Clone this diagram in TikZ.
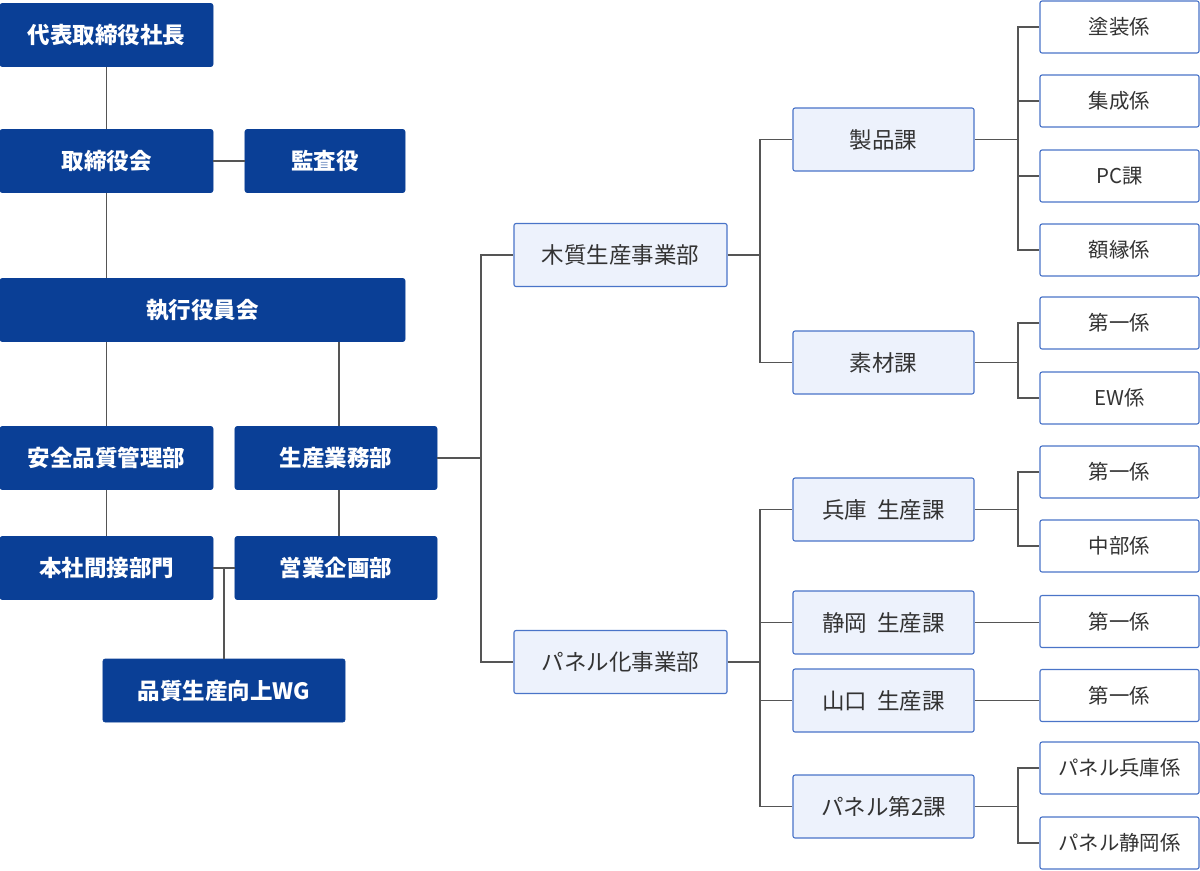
\documentclass[tikz,border=0pt]{standalone}
\usepackage{fontspec}
\setmainfont{Noto Sans CJK JP}
\definecolor{navy}{HTML}{0A3F96}
\definecolor{paleblue}{HTML}{EDF2FC}
\definecolor{edgeblue}{HTML}{4A74C8}
\definecolor{linegray}{HTML}{555555}
\definecolor{textgray}{HTML}{333333}
\tikzset{
  head/.style={draw=navy, fill=navy, text=white, rounded corners=1.5pt,
    minimum height=1.575cm, inner sep=0pt,
    font=\fontsize{16}{18}\selectfont\bfseries},
  division/.style={draw=edgeblue, fill=paleblue, text=textgray, rounded corners=1.5pt,
    line width=0.8pt, minimum width=5.325cm, minimum height=1.575cm, inner sep=0pt,
    font=\fontsize{16}{18}\selectfont},
  section/.style={division, minimum width=4.525cm},
  unit/.style={draw=edgeblue, fill=white, text=textgray, rounded corners=1.5pt,
    line width=0.8pt, minimum width=3.975cm, minimum height=1.3cm, inner sep=0pt,
    font=\fontsize{14.5}{16}\selectfont},
  link/.style={draw=linegray, line width=1.3pt}
}
\begin{document}
\begin{tikzpicture}[x=0.025cm, y=-0.025cm]
  \useasboundingbox (0,0) rectangle (1200,870);
  % management side
  \node [head, minimum width=5.325cm] (pres) at (106.5,35) {代表取締役社長};
  \node [head, minimum width=5.325cm] (board) at (106.5,161) {取締役会};
  \node [head, minimum width=4cm] (audit) at (325,161) {監査役};
  \node [head, minimum width=10.125cm] (exec) at (202.5,310) {執行役員会};
  \node [head, minimum width=5.325cm] (safety) at (106.5,458) {安全品質管理部};
  \node [head, minimum width=5.05cm] (ops) at (336,458) {生産業務部};
  \node [head, minimum width=5.325cm] (indirect) at (106.5,568) {本社間接部門};
  \node [head, minimum width=5.05cm] (sales) at (336,568) {営業企画部};
  \node [head, minimum width=6.05cm] (wg) at (224,690.5) {品質生産向上WG};
  % divisions
  \node [division] (wood) at (620.5,255) {木質生産事業部};
  \node [division] (panel) at (620.5,662) {パネル化事業部};
  % sections
  \node [section] (seihin) at (883.5,139.5) {製品課};
  \node [section] (sozai) at (883.5,362.5) {素材課};
  \node [section] (hyogo) at (883.5,509.5) {兵庫\hspace{0.45em}生産課};
  \node [section] (shizuoka) at (883.5,622.5) {静岡\hspace{0.45em}生産課};
  \node [section] (yamaguchi) at (883.5,700.5) {山口\hspace{0.45em}生産課};
  \node [section] (panelsec) at (883.5,806.5) {パネル第2課};
  % units
  \node [unit] (tosou) at (1119.5,27) {塗装係};
  \node [unit] (shusei) at (1119.5,101) {集成係};
  \node [unit] (pc) at (1119.5,176) {PC課};
  \node [unit] (gakubuchi) at (1119.5,250) {額縁係};
  \node [unit] (sozaiA) at (1119.5,323) {第一係};
  \node [unit] (ew) at (1119.5,398) {EW係};
  \node [unit] (hyogoA) at (1119.5,472) {第一係};
  \node [unit] (chubu) at (1119.5,546) {中部係};
  \node [unit] (shizuokaA) at (1119.5,621.5) {第一係};
  \node [unit] (yamaguchiA) at (1119.5,695.5) {第一係};
  \node [unit] (phyogo) at (1119.5,768) {パネル兵庫係};
  \node [unit] (pshizuoka) at (1119.5,843) {パネル静岡係};
  % branch points
  \coordinate (opsbr) at (481,458);
  \coordinate (woodbr) at (760,255);
  \coordinate (panelbr) at (760,662);
  \coordinate (seihinbr) at (1018,139.5);
  \coordinate (sozaibr) at (1018,362.5);
  \coordinate (hyogobr) at (1018,509.5);
  \coordinate (panelsecbr) at (1018,806.5);
  \coordinate (wgbr) at (224,568);
  % connectors
  \draw [link] (pres) -- (board);
  \draw [link] (board) -- (audit);
  \draw [link] (board.south) -- (board.south |- exec.north);
  \draw [link] (safety.north) -- (safety.north |- exec.south);
  \draw [link] (339,0 |- ops.north) -- (339,0 |- exec.south);
  \draw [link] (safety) -- (indirect);
  \draw [link] (339,0 |- ops.south) -- (339,0 |- sales.north);
  \draw [link] (indirect) -- (sales);
  \draw [link] (wgbr) -- (wg.north);
  \draw [link] (ops) -- (opsbr);
  \draw [link] (opsbr) |- (wood.west);
  \draw [link] (opsbr) |- (panel.west);
  \draw [link] (wood) -- (woodbr);
  \draw [link] (woodbr) |- (seihin.west);
  \draw [link] (woodbr) |- (sozai.west);
  \draw [link] (panel) -- (panelbr);
  \foreach \s in {hyogo, shizuoka, yamaguchi, panelsec}
    \draw [link] (panelbr) |- (\s.west);
  \draw [link] (seihin) -- (seihinbr);
  \foreach \u in {tosou, shusei, pc, gakubuchi}
    \draw [link] (seihinbr) |- (\u.west);
  \draw [link] (sozai) -- (sozaibr);
  \foreach \u in {sozaiA, ew}
    \draw [link] (sozaibr) |- (\u.west);
  \draw [link] (hyogo) -- (hyogobr);
  \foreach \u in {hyogoA, chubu}
    \draw [link] (hyogobr) |- (\u.west);
  \draw [link] (shizuoka.east) -- (shizuoka.east -| shizuokaA.west);
  \draw [link] (yamaguchi.east) -- (yamaguchi.east -| yamaguchiA.west);
  \draw [link] (panelsec) -- (panelsecbr);
  \foreach \u in {phyogo, pshizuoka}
    \draw [link] (panelsecbr) |- (\u.west);
\end{tikzpicture}
\end{document}
